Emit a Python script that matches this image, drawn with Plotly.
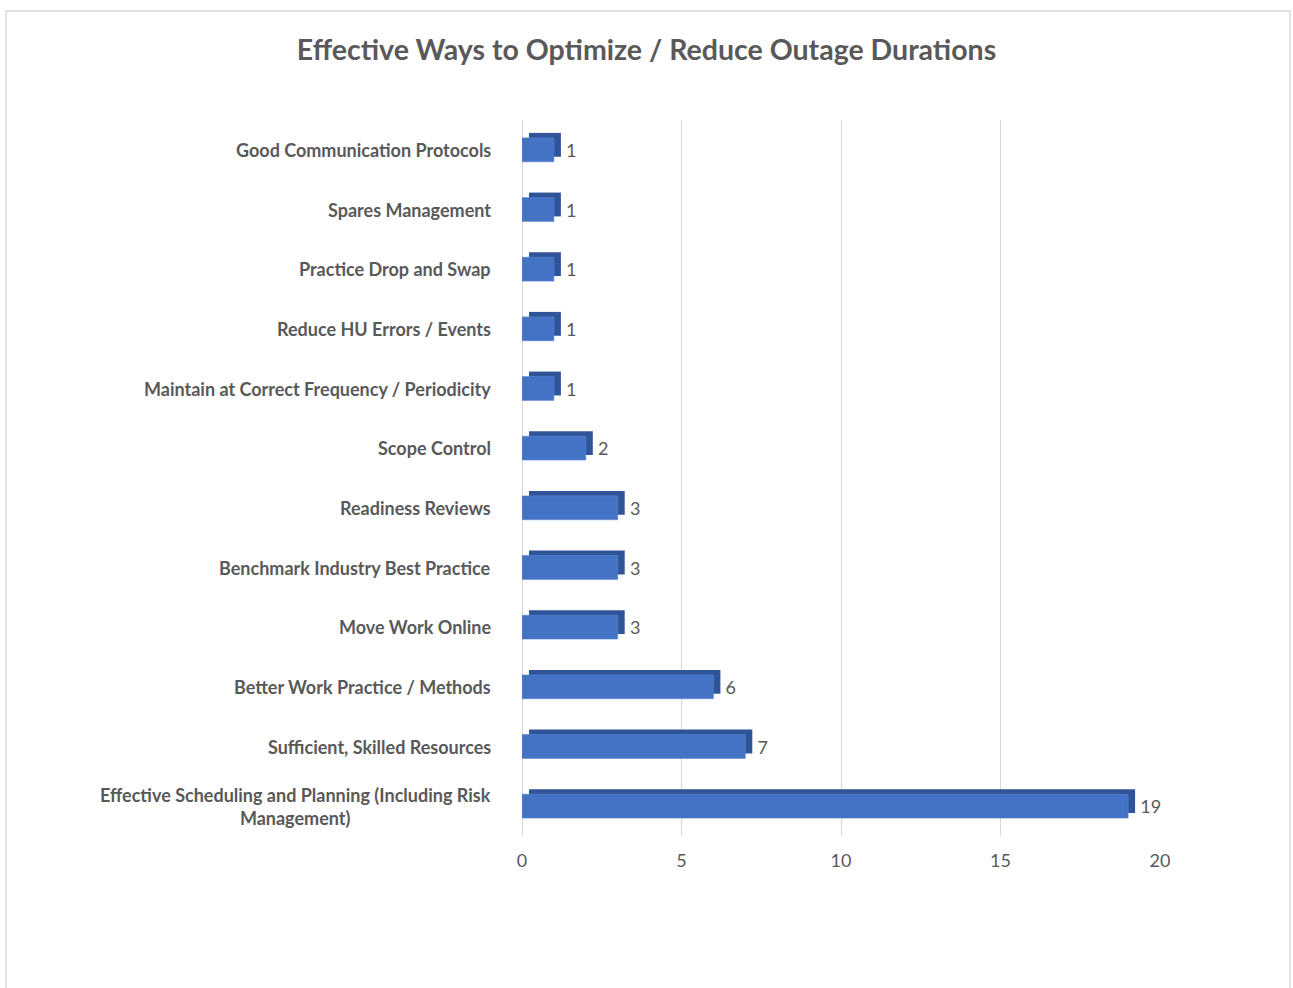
import plotly.graph_objects as go

# Survey responses: effective ways to optimize / reduce outage durations
categories = [
    "Good Communication Protocols",
    "Spares Management",
    "Practice Drop and Swap",
    "Reduce HU Errors / Events",
    "Maintain at Correct Frequency / Periodicity",
    "Scope Control",
    "Readiness Reviews",
    "Benchmark Industry Best Practice",
    "Move Work Online",
    "Better Work Practice / Methods",
    "Sufficient, Skilled Resources",
    "Effective Scheduling and Planning (Including Risk<br>Management)",
]
counts = [1, 1, 1, 1, 1, 2, 3, 3, 3, 6, 7, 19]
x_ticks = [0, 5, 10, 15, 20]

W, H = 1293, 988
M_L, M_R, M_T, M_B = 522, 126, 115, 152
plot_w = W - M_L - M_R
plot_h = H - M_T - M_B
# depth offset of the bar side/top faces, in pixels
dx, dy = 7, 5
fx = dx / plot_w
fy = dy / plot_h

FRONT = "#4472C4"
SIDE = "#2F5497"
TEXT = "#595959"
FONT = "Lato"

n = len(categories)
y_range = [n - 0.5, -0.5]
x_range = [0, 20]

fig = go.Figure()

# transparent bars that carry the gridded value axis underneath everything
fig.add_trace(go.Bar(
    y=categories, x=counts, orientation="h",
    xaxis="x", yaxis="y",
    width=0.4,
    marker=dict(color="rgba(0,0,0,0)", line=dict(width=0)),
    hoverinfo="skip",
    showlegend=False,
))

# depth faces (shifted up-right, behind the front faces)
fig.add_trace(go.Bar(
    y=categories, x=counts, orientation="h",
    xaxis="x2", yaxis="y2",
    width=0.4,
    marker=dict(color=SIDE, line=dict(width=0)),
    hoverinfo="skip",
    showlegend=False,
))

# front faces, with value labels clear of the depth face
fig.add_trace(go.Bar(
    y=categories, x=counts, orientation="h",
    xaxis="x3", yaxis="y3",
    width=0.4,
    marker=dict(color=FRONT, line=dict(color="#5B86D6", width=0.6)),
    text=["\u00a0\u00a0" + str(v) for v in counts],
    textposition="outside",
    textfont=dict(family=FONT, size=18, color=TEXT),
    cliponaxis=False,
    showlegend=False,
))

# category labels, each centred on itself like the wrapped label
for cat in categories:
    fig.add_annotation(
        text=cat, xref="paper", x=-29 / plot_w,
        yref="y3", y=cat, xanchor="right", yanchor="middle", align="center",
        showarrow=False,
        font=dict(family=FONT, size=18, color=TEXT, weight="bold"),
    )

# chart border
x_px = lambda px: (px - M_L) / plot_w
y_px = lambda py: (H - M_B - py) / plot_h
fig.add_shape(type="rect", xref="paper", yref="paper",
              x0=x_px(6), x1=x_px(1290), y0=y_px(992), y1=y_px(11),
              line=dict(color="#D9D9D9", width=1.5), layer="below")

hidden = dict(visible=False, showgrid=False, zeroline=False)

fig.update_layout(
    width=W, height=H,
    margin=dict(l=M_L, r=M_R, t=M_T, b=M_B),
    paper_bgcolor="white", plot_bgcolor="rgba(0,0,0,0)",
    bargap=0.6,
    title=dict(
        text="Effective Ways to Optimize / Reduce Outage Durations",
        x=0.5, xref="container", xanchor="center",
        y=1 - 50 / H, yref="container", yanchor="middle",
        font=dict(family=FONT, size=28.5, color=TEXT, weight="bold"),
    ),
    xaxis=dict(
        domain=[0, 1 - fx], range=x_range, anchor="y",
        tickvals=x_ticks, ticktext=[str(t) for t in x_ticks],
        showgrid=True, gridcolor="#D9D9D9", gridwidth=1,
        zeroline=True, zerolinecolor="#D9D9D9", zerolinewidth=1,
        showline=False, ticks="", ticklabelstandoff=12,
        tickfont=dict(family=FONT, size=18, color=TEXT),
    ),
    yaxis=dict(domain=[0, 1 - fy], range=y_range, anchor="x",
               showticklabels=False, showgrid=False, zeroline=False,
               showline=False, ticks=""),
    xaxis2=dict(domain=[fx, 1], range=x_range, anchor="y2", **hidden),
    yaxis2=dict(domain=[fy, 1], range=y_range, anchor="x2", **hidden),
    xaxis3=dict(domain=[0, 1 - fx], range=x_range, anchor="y3", **hidden),
    yaxis3=dict(domain=[0, 1 - fy], range=y_range, anchor="x3", **hidden),
)

fig.write_html("out.html")
